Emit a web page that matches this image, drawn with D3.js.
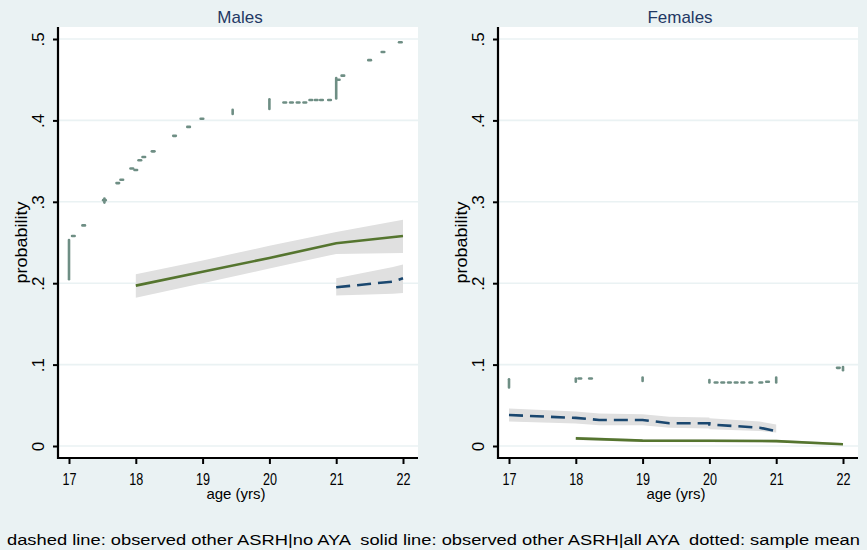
<!DOCTYPE html>
<html>
<head>
<meta charset="utf-8">
<script src="https://cdn.jsdelivr.net/npm/d3@7"></script>
<style>
  html, body { margin: 0; padding: 0; background: #eaf2f3; }
  svg { display: block; font-family: "Liberation Sans", Arial, sans-serif; }
</style>
</head>
<body>
<div id="chart"></div>
<script>
// ages on the x axis, probability ticks on the y axis
const ageTicks = [17, 18, 19, 20, 21, 22];
const probTicks = [0, 0.1, 0.2, 0.3, 0.4, 0.5];
const probLabels = ["0", ".1", ".2", ".3", ".4", ".5"];

// Males: solid line = observed other ASRH | all AYA
const maleSolidAge = [18, 19, 20, 21, 22];
const maleSolid = [0.197, 0.214, 0.231, 0.249, 0.258];
const maleSolidLo = [0.182, 0.200, 0.218, 0.236, 0.237];
const maleSolidHi = [0.211, 0.228, 0.246, 0.263, 0.278];

// Males: dashed line = observed other ASRH | no AYA
const maleDashAge = [21, 21.85, 22];
const maleDash = [0.195, 0.202, 0.206];
const maleDashLo = [0.185, 0.187, 0.188];
const maleDashHi = [0.206, 0.220, 0.223];

// Males: dotted sample mean (short marks and vertical runs)
const maleMean = [
  [17.065, 0.258], [17.22, 0.271], [17.53, 0.302], [17.73, 0.323], [17.79, 0.327],
  [17.94, 0.341], [18.0, 0.339], [18.06, 0.351], [18.12, 0.355], [18.26, 0.362],
  [18.58, 0.381], [18.79, 0.392], [18.99, 0.402],
  [20.23, 0.422], [20.33, 0.422], [20.43, 0.422], [20.53, 0.422],
  [20.62, 0.425], [20.70, 0.425], [20.78, 0.425], [20.9, 0.425],
  [21.03, 0.450], [21.1, 0.455], [21.5, 0.474], [21.7, 0.484], [21.96, 0.496]
];
const maleMeanRuns = [[17, 0.205, 0.253], [17.53, 0.299, 0.304], [19.45, 0.408, 0.413], [20, 0.414, 0.426], [21, 0.427, 0.452]];

// Females: solid line
const femSolidAge = [18, 19, 20, 21, 22];
const femSolid = [0.0094, 0.0066, 0.0064, 0.0060, 0.0022];
const femSolidLo = [0.0075, 0.0048, 0.0046, 0.0042, 0.0008];
const femSolidHi = [0.0113, 0.0084, 0.0082, 0.0078, 0.0036];

// Females: dashed line
const femDashAge = [17, 18, 18.35, 19, 19.4, 20, 20, 20.75, 21];
const femDash = [0.038, 0.0345, 0.032, 0.032, 0.028, 0.028, 0.0265, 0.0225, 0.0183];
const femDashLo = [0.030, 0.0275, 0.0255, 0.0255, 0.0225, 0.0215, 0.0205, 0.0185, 0.0167];
const femDashHi = [0.046, 0.0425, 0.040, 0.039, 0.036, 0.035, 0.034, 0.030, 0.0265];

// Females: dotted sample mean
const femMean = [
  [18.06, 0.083], [18.22, 0.083],
  [20.1, 0.078], [20.2, 0.078], [20.3, 0.078], [20.4, 0.078], [20.5, 0.078],
  [20.62, 0.078], [20.77, 0.078], [20.87, 0.079], [21.93, 0.096]
];
const femMeanRuns = [[17, 0.072, 0.082], [18, 0.079, 0.083], [19, 0.080, 0.084], [20, 0.078, 0.081], [21, 0.078, 0.084], [22, 0.093, 0.097]];

const footer = "dashed line: observed other ASRH|no AYA  solid line: observed other ASRH|all AYA  dotted: sample mean";

const W = 867, H = 550;
const svg = d3.select("#chart").append("svg").attr("width", W).attr("height", H);
svg.append("rect").attr("width", W).attr("height", H).attr("fill", "#eaf2f3");

const NAVY = "#1a476f", GREEN = "#55752f", TEAL = "#6e8e84", BAND = "#e0e0e0";

function zip(ages, vals) { return ages.map((a, i) => [a, vals[i]]); }

function drawPanel(offsetX, title, d) {
  const pw = 360, top = 27, bottom = 458;
  const g = svg.append("g").attr("transform", `translate(${offsetX},0)`);
  const x = d3.scaleLinear().domain([17, 22]).range([11, 345]);
  const y = d3.scaleLinear().domain([0, 0.5]).range([446, 39]);

  g.append("rect").attr("x", 0).attr("y", top).attr("width", pw).attr("height", bottom - top).attr("fill", "#fff");

  g.selectAll(".grid").data(probTicks).join("line")
    .attr("x1", 0).attr("x2", pw).attr("y1", (v) => y(v)).attr("y2", (v) => y(v))
    .attr("stroke", "#eaf2f3").attr("stroke-width", 1.6);

  const area = d3.area().x((p) => x(p[0])).y0((p) => y(p[1])).y1((p) => y(p[2]));
  const line = d3.line().x((p) => x(p[0])).y((p) => y(p[1]));

  d.bands.forEach((b) => {
    g.append("path").datum(b.ages.map((a, i) => [a, b.lo[i], b.hi[i]]))
      .attr("d", area).attr("fill", BAND);
  });

  g.append("path").datum(zip(d.solid.ages, d.solid.vals)).attr("d", line)
    .attr("fill", "none").attr("stroke", GREEN).attr("stroke-width", 2.6);
  g.append("path").datum(zip(d.dash.ages, d.dash.vals)).attr("d", line)
    .attr("fill", "none").attr("stroke", NAVY).attr("stroke-width", 2.6)
    .attr("stroke-dasharray", "14,7");

  g.selectAll(".mean").data(d.mean).join("line")
    .attr("x1", (p) => x(p[0]) - 1.3).attr("x2", (p) => x(p[0]) + 1.3)
    .attr("y1", (p) => y(p[1])).attr("y2", (p) => y(p[1]))
    .attr("stroke", TEAL).attr("stroke-width", 2.6).attr("stroke-linecap", "round");
  g.selectAll(".run").data(d.runs).join("line")
    .attr("x1", (p) => x(p[0])).attr("x2", (p) => x(p[0]))
    .attr("y1", (p) => y(p[1])).attr("y2", (p) => y(p[2]))
    .attr("stroke", TEAL).attr("stroke-width", 2.6).attr("stroke-linecap", "round");

  // axes
  const yAxis = g.append("g").call(d3.axisLeft(y).tickValues(probTicks).tickFormat((v, i) => probLabels[i]).tickSize(5).tickPadding(0));
  yAxis.select(".domain").remove();
  yAxis.selectAll(".tick line").attr("stroke", "#000").attr("stroke-width", 2);
  yAxis.selectAll(".tick text").attr("transform", "rotate(-90)").attr("x", 0).attr("y", -14)
    .attr("text-anchor", "middle").attr("dy", 0).attr("font-size", 17).attr("fill", "#000")
    .attr("font-family", "Liberation Sans, Arial, sans-serif");

  const xAxis = g.append("g").attr("transform", `translate(0,${bottom})`)
    .call(d3.axisBottom(x).tickValues(ageTicks).tickFormat(d3.format("d")).tickSize(6).tickPadding(0));
  xAxis.select(".domain").remove();
  xAxis.selectAll(".tick line").attr("stroke", "#000").attr("stroke-width", 2);
  xAxis.selectAll(".tick text").attr("y", 27).attr("dy", 0).attr("font-size", 17).attr("fill", "#000")
    .attr("font-family", "Liberation Sans, Arial, sans-serif").attr("textLength", 14).attr("lengthAdjust", "spacingAndGlyphs");

  g.append("line").attr("x1", 0).attr("x2", 0).attr("y1", top).attr("y2", bottom + 1)
    .attr("stroke", "#000").attr("stroke-width", 2.2);
  g.append("line").attr("x1", -1).attr("x2", pw).attr("y1", bottom).attr("y2", bottom)
    .attr("stroke", "#000").attr("stroke-width", 2.2);

  g.append("text").attr("x", pw / 2 + 2).attr("y", 23).attr("text-anchor", "middle")
    .attr("font-size", 17).attr("fill", "#1f3864").text(title);
  g.append("text").attr("x", pw / 2 - 2).attr("y", 499).attr("text-anchor", "middle")
    .attr("font-size", 15).attr("fill", "#000").text("age (yrs)");
  g.append("text").attr("transform", `translate(-31,${(top + bottom) / 2}) rotate(-90)`)
    .attr("text-anchor", "middle").attr("font-size", 16).attr("fill", "#000")
    .attr("textLength", 82).attr("lengthAdjust", "spacingAndGlyphs").text("probability");
}

drawPanel(58, "Males", {
  bands: [
    { ages: maleSolidAge, lo: maleSolidLo, hi: maleSolidHi },
    { ages: maleDashAge, lo: maleDashLo, hi: maleDashHi }
  ],
  solid: { ages: maleSolidAge, vals: maleSolid },
  dash: { ages: maleDashAge, vals: maleDash },
  mean: maleMean,
  runs: maleMeanRuns
});

drawPanel(498, "Females", {
  bands: [
    { ages: femDashAge, lo: femDashLo, hi: femDashHi },
    { ages: femSolidAge, lo: femSolidLo, hi: femSolidHi }
  ],
  solid: { ages: femSolidAge, vals: femSolid },
  dash: { ages: femDashAge, vals: femDash },
  mean: femMean,
  runs: femMeanRuns
});

svg.append("text").attr("x", 7).attr("y", 545).attr("font-size", 15.5).attr("fill", "#000")
  .attr("textLength", 853).attr("lengthAdjust", "spacingAndGlyphs")
  .attr("xml:space", "preserve").style("white-space", "pre").text(footer);
</script>
</body>
</html>
